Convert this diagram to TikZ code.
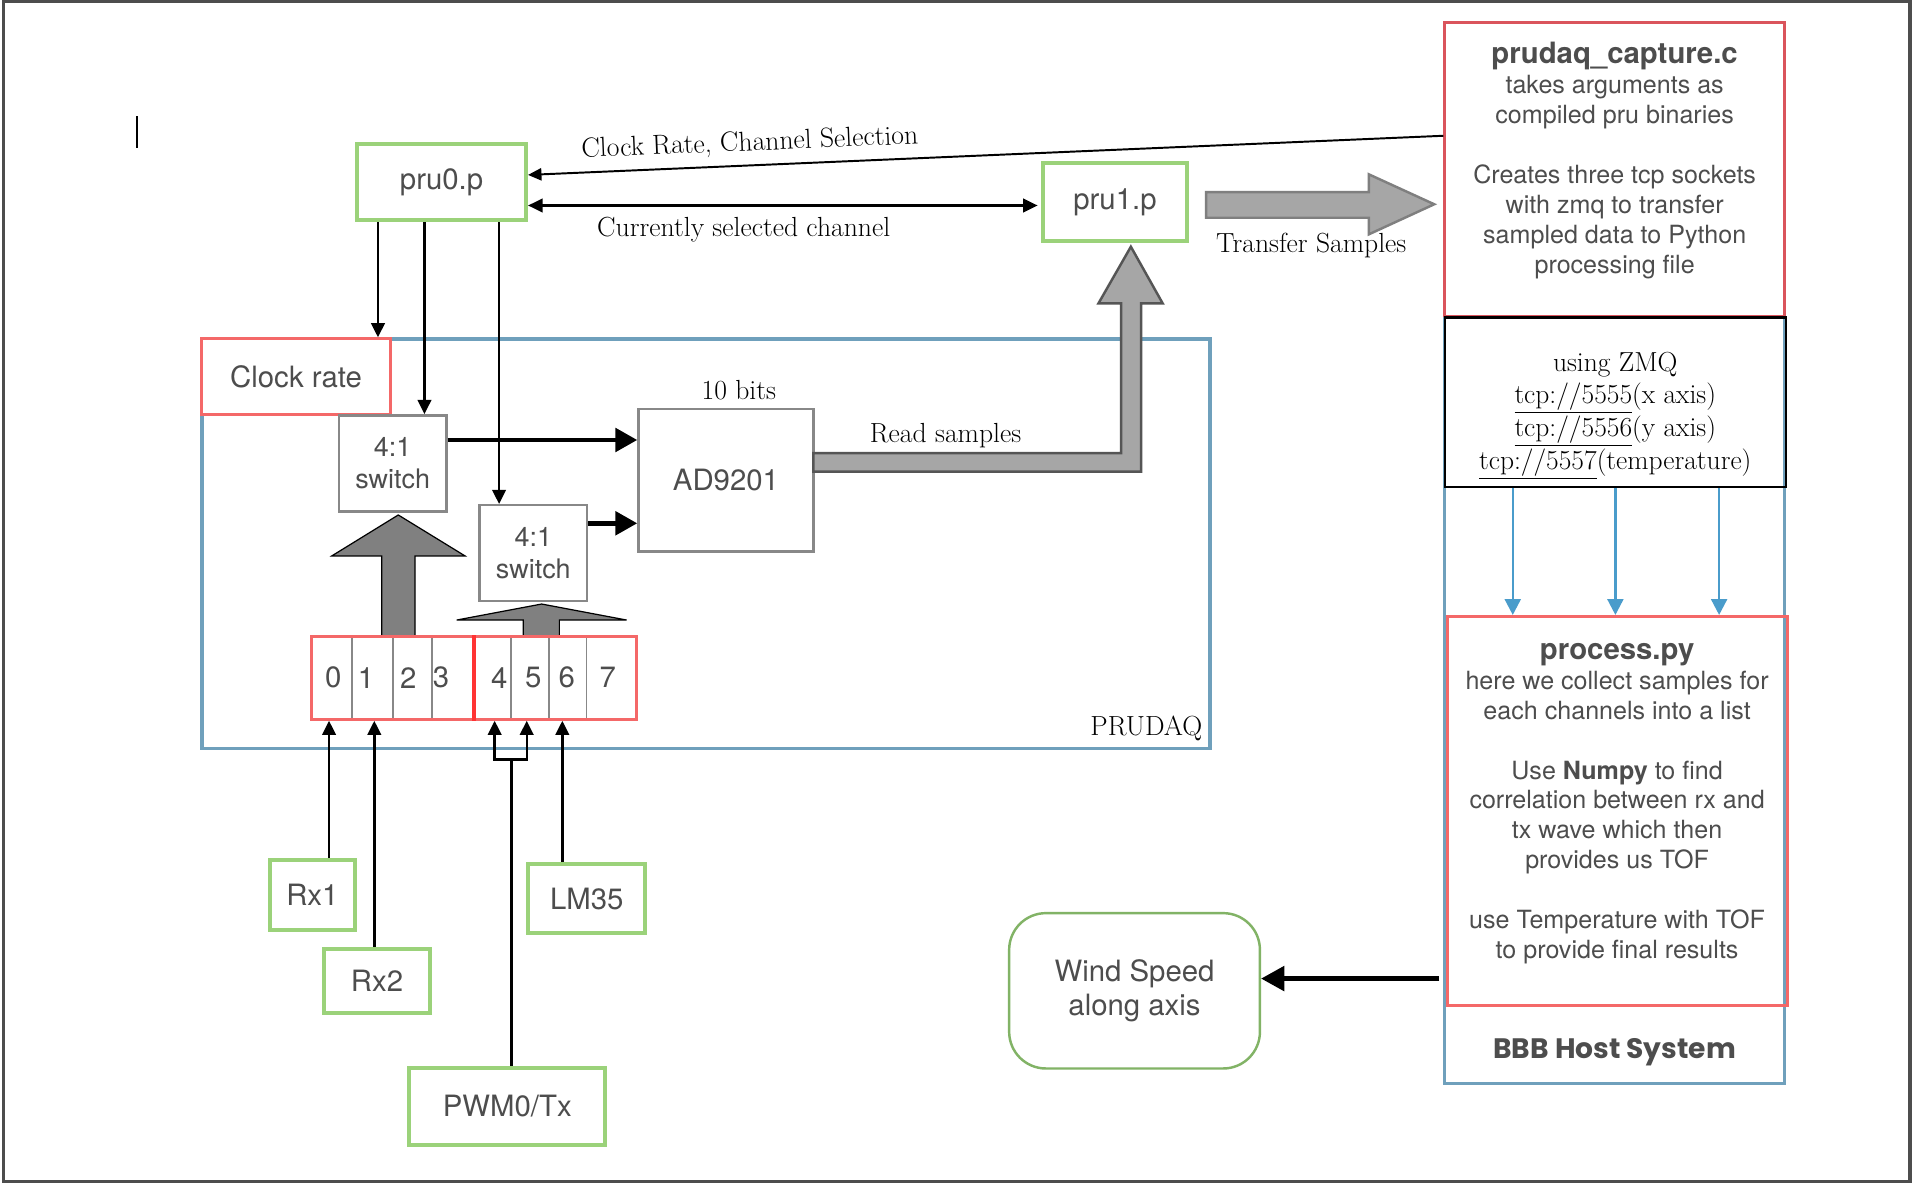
\documentclass[tikz,border=0pt]{standalone}
\usepackage{fontspec}
\newfontfamily\hel{TeX Gyre Heros}
\newfontfamily\handf{Poppins}
\usetikzlibrary{arrows.meta,calc}
\definecolor{frameg}{HTML}{4D4D4D}
\definecolor{txtg}{HTML}{4D4D4D}
\definecolor{grn}{HTML}{9BD27A}
\definecolor{dgrn}{HTML}{82B366}
\definecolor{redA}{HTML}{DA545C}
\definecolor{redB}{HTML}{F46868}
\definecolor{redC}{HTML}{FF3333}
\definecolor{blueb}{HTML}{6FA0BC}
\definecolor{bluea}{HTML}{4A9CCB}
\definecolor{grayb}{HTML}{888888}
\definecolor{arrfill}{HTML}{A6A6A6}
\definecolor{arrdraw}{HTML}{7F7F7F}
\definecolor{arrdark}{HTML}{555555}
\definecolor{darkfill}{HTML}{808080}
\tikzset{
  lab/.style={font=\hel\fontsize{24}{28}\selectfont, text=txtg},
  body/.style={font=\hel\fontsize{20.5}{24.5}\selectfont, text=txtg, align=center, inner sep=0pt},
  seriflab/.style={font=\fontsize{22.6}{26}\selectfont, text=black, inner sep=0pt},
  greenbox/.style={draw=grn, line width=3.3pt, inner sep=0pt, lab},
  redbox/.style={draw=redB, line width=2.5pt, inner sep=0pt},
  graybox/.style={draw=grayb, line width=2pt, inner sep=0pt, lab},
  thinarr/.style={draw=black, line width=2pt, -{Triangle[length=11.5pt,width=11pt]}},
  fatarr/.style={draw=black, line width=4pt, -{Triangle[length=18pt,width=19pt]}},
  bluearr/.style={draw=bluea, line width=2pt, -{Triangle[length=13pt,width=13pt]}},
  bigarrow/.style={fill=arrfill, draw=arrdraw, line width=2pt, line join=miter},
  chanarrow/.style={fill=darkfill, draw=black, line width=1pt, line join=miter},
}
\begin{document}
\begin{tikzpicture}[x=1pt,y=-1pt]
\useasboundingbox (0,0) rectangle (1568,973);
\fill[white] (0,0) rectangle (1568,973);
\draw[frameg, line width=2.7pt] (3,1.4) rectangle (1561.5,965.8);
\draw[black, line width=1.5pt] (112,95) -- (112,121);

% containers
\node[draw=blueb, line width=3pt, minimum width=824pt, minimum height=335pt, inner sep=0pt] (prudaqb) at (577,444.5) {};
\node[draw=blueb, line width=2.5pt, minimum width=278pt, minimum height=626.5pt, inner sep=0pt] (bbb) at (1320,572.75) {};
\node[seriflab, anchor=base east] (prudaqlab) at (983,601.5) {PRUDAQ};
\node[font=\handf\bfseries\fontsize{23}{28}\selectfont, text=txtg] (bbblab) at (1320,860) {BBB Host System};

% channel group arrows (behind channel boxes)
\path[chanarrow] (312,520) -- (312,454.5) -- (271.2,454.5) -- (325.6,421) -- (380.2,454.5) -- (339.3,454.5) -- (339.3,520) -- cycle;
\path[chanarrow] (427.8,520.5) -- (427.8,506.9) -- (373.3,506.9) -- (442.8,493.8) -- (512.3,506.9) -- (457.3,506.9) -- (457.3,520.5) -- cycle;

% channel boxes
\node[redbox, minimum width=132.5pt, minimum height=67.5pt] (chA) at (321.25,554.25) {};
\node[redbox, minimum width=133pt, minimum height=67.5pt] (chB) at (454,554.25) {};
\foreach \x in {287.5,321,353,417.5,448.5,479.5}
  \draw[grayb, line width=1.5pt] (\x,521.8) -- (\x,586.8);
\draw[redC, line width=3.5pt] (387.5,519.3) -- (387.5,589.2);
\foreach \x/\d in {272.5/0,299.2/1,333.8/2,360.5/3,408.2/4,436/5,463.3/6,496.8/7}
  \node[lab] at (\x,554) {\d};

% main nodes
\node[greenbox, minimum width=138pt, minimum height=62pt] (pru0) at (361,149) {pru0.p};
\node[greenbox, minimum width=117pt, minimum height=64pt] (pru1) at (911.5,165) {pru1.p};
\node[draw=redA, line width=2pt, minimum width=278pt, minimum height=240pt, inner sep=0pt] (prudaq) at (1320,138.5) {};
\node[draw=black, line width=1.8pt, minimum width=279pt, minimum height=138.5pt, inner sep=0pt] (zmq) at (1320.5,328.75) {};
\node[draw=redB, line width=2.5pt, minimum width=278pt, minimum height=318pt, inner sep=0pt] (process) at (1322,663) {};
\node[draw=dgrn, line width=2pt, rounded corners=30pt, minimum width=205pt, minimum height=127pt, lab, align=center, inner sep=0pt] (wind) at (927.5,810) {Wind Speed\\along axis};
\node[redbox, lab, fill=white, minimum width=154pt, minimum height=62pt] (clock) at (242,308) {Clock rate};
\node[graybox, minimum width=88pt, minimum height=78.5pt, align=center, font=\hel\fontsize{22}{26}\selectfont] (sw1) at (321,378.75) {4:1\\switch};
\node[graybox, minimum width=88pt, minimum height=78.5pt, align=center, font=\hel\fontsize{22}{26}\selectfont] (sw2) at (436,452.25) {4:1\\switch};
\node[graybox, minimum width=143pt, minimum height=116.5pt] (adc) at (593.5,392.75) {AD9201};

\node[greenbox, minimum width=69.3pt, minimum height=57.4pt] (rx1) at (255.35,731.7) {Rx1};
\node[greenbox, minimum width=86.5pt, minimum height=53pt] (rx2) at (308.25,802) {Rx2};
\node[greenbox, minimum width=95.3pt, minimum height=56.6pt] (lm35) at (479.65,734.7) {LM35};
\node[greenbox, minimum width=160.3pt, minimum height=63.3pt] (pwm) at (414.75,904.65) {PWM0/Tx};

% box texts
\node[body] (prudaqtxt) at (1320,131.5) {{\bfseries\fontsize{24}{27}\selectfont prudaq\_capture.c}\\takes arguments as\\compiled pru binaries\\[24.5pt]Creates three tcp sockets\\with zmq to transfer\\sampled data to Python\\processing file};
\node[seriflab, align=center, font=\fontsize{22.5}{26.7}\selectfont] (zmqtxt) at (1320.5,339.5) {using ZMQ\\\underline{tcp://5555}(x axis)\\\underline{tcp://5556}(y axis)\\\underline{tcp://5557}(temperature)};
\node[body] (proctxt) at (1322,657) {{\bfseries\fontsize{24}{27}\selectfont process.py}\\here we collect samples for\\each channels into a list\\[24.5pt]Use \textbf{Numpy} to find\\correlation between rx and\\tx wave which then\\provides us TOF\\[24.5pt]use Temperature with TOF\\to provide final results};

% labels
\node[seriflab, rotate=2.4] (crlab) at (613,117.5) {Clock Rate, Channel Selection};
\node[seriflab] (cslab) at (608,187.5) {Currently selected channel};
\node[seriflab] (tslab) at (1072,201) {Transfer Samples};
\node[seriflab] (bitslab) at (604,319) {10 bits};
\node[seriflab] (rslab) at (773,356) {Read samples};

% big gray arrows
\path[bigarrow] (986,157) -- (1119,157) -- (1119,142.5) -- (1172.5,167) -- (1119,191.6) -- (1119,178) -- (986,178) -- cycle;
\path[bigarrow, draw=arrdark] (665,370.5) -- (916.5,370.5) -- (916.5,248) -- (898,248) -- (924.5,201.7) -- (950.5,248) -- (932.8,248) -- (932.8,385.6) -- (665,385.6) -- cycle;

% connectors
\coordinate (crs) at (0,111);
\draw[draw=black, line width=1.6pt, -{Triangle[length=11pt,width=10pt]}] (prudaq.west |- crs) -- ($(pru0.east)+(0,-6)$);
\draw[draw=black, line width=2.4pt, {Triangle[length=12pt,width=11pt]}-{Triangle[length=12pt,width=11pt]}, shorten >=3pt] ($(pru0.east)+(0,19)$) -- ($(pru1.west)+(0,3)$);

\coordinate (xa) at (309,0);
\coordinate (xb) at (347,0);
\coordinate (xc) at (408,0);
\draw[thinarr] (pru0.south -| xa) -- (clock.north -| xa);
\draw[thinarr] (pru0.south -| xb) -- (sw1.north -| xb);
\draw[thinarr] (pru0.south -| xc) -- (sw2.north -| xc);

\coordinate (t1) at (0,359.7);
\coordinate (t2) at (0,427.8);
\draw[fatarr] (sw1.east |- t1) -- (adc.west |- t1);
\draw[fatarr] (sw2.east |- t2) -- (adc.west |- t2);

\coordinate (i0) at (269,0);
\coordinate (i1) at (306,0);
\coordinate (i4) at (404.4,0);
\coordinate (i5) at (430.6,0);
\coordinate (i6) at (459.7,0);
\coordinate (fork) at (418.3,620.8);
\draw[thinarr] (rx1.north -| i0) -- (chA.south -| i0);
\draw[thinarr] (rx2.north -| i1) -- (chA.south -| i1);
\draw[thinarr] (lm35.north -| i6) -- (chB.south -| i6);
\draw[thinarr] (pwm.north -| fork) -- (fork) -| (chB.south -| i4);
\draw[thinarr] (fork) -| (chB.south -| i5);

\coordinate (b1) at (1236.7,0);
\coordinate (b2) at (1320.6,0);
\coordinate (b3) at (1405.4,0);
\draw[bluearr] (zmq.south -| b1) -- (process.north -| b1);
\draw[bluearr] (zmq.south -| b2) -- (process.north -| b2);
\draw[bluearr] (zmq.south -| b3) -- (process.north -| b3);

\coordinate (wy) at (0,800);
\draw[draw=black, line width=3.5pt, -{Triangle[length=19pt,width=20pt]}] ($(process.west |- wy)+(-5,0)$) -- (wind.east |- wy);
\end{tikzpicture}
\end{document}
